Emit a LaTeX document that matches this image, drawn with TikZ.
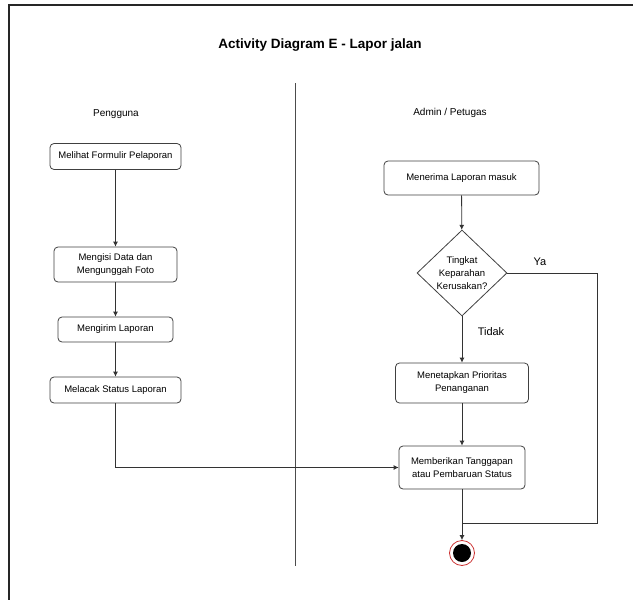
\documentclass[tikz,border=0pt]{standalone}
\usepackage{fontspec}
\setmainfont{Liberation Sans}
\usetikzlibrary{shapes.geometric,arrows.meta}
\begin{document}
\begin{tikzpicture}[x=1pt,y=-1pt,
  actbox/.style={draw=black!75,line width=0.8pt,rounded corners=4pt,fill=white,align=center,
    font=\fontsize{9.5}{13}\selectfont,inner sep=1pt},
  decis/.style={draw=black!75,line width=0.8pt,diamond,aspect=1.05,align=center,
    font=\fontsize{9.5}{13}\selectfont,inner sep=0pt,minimum width=90pt,minimum height=86pt},
  conn/.style={draw=black!80,line width=0.8pt},
  arr/.style={conn,-{Latex[length=5pt,width=5pt]}},
  lane/.style={font=\fontsize{10}{12}\selectfont},
  lbl/.style={font=\fontsize{11}{13}\selectfont}]
\useasboundingbox (0,0) rectangle (633,600);
% frame
\draw[line width=1.3pt,black!85] (633,5) -- (9,5) -- (9,600);
% title
\node (title) at (320,45) {\fontsize{13.5}{16}\selectfont\bfseries Activity Diagram E - Lapor jalan};
% divider
\coordinate (dtop) at (295,83);
\coordinate (dbot) at (295,566);
\draw[black!70,line width=0.8pt] (dtop) -- (dbot);
% lanes
\node[lane] (lanea) at (116,114) {Pengguna};
\node[lane] (laneb) at (450,113) {Admin / Petugas};
% left activities
\node[actbox,minimum width=131pt,minimum height=26pt] (b1) at (115.5,156.5) {Melihat Formulir Pelaporan};
\node[actbox,minimum width=123pt,minimum height=35pt] (b2) at (115.5,264.5) {Mengisi Data dan\\Mengunggah Foto};
\node[actbox,minimum width=115pt,minimum height=25pt] (b3) at (115.5,329.5) {Mengirim Laporan};
\node[actbox,minimum width=131pt,minimum height=26pt] (b4) at (115.5,390) {Melacak Status Laporan};
% right activities
\node[actbox,minimum width=155pt,minimum height=34pt] (r1) at (461.5,178) {Menerima Laporan masuk};
\node[decis] (dia) at (462,273) {Tingkat\\Keparahan\\Kerusakan?};
\node[actbox,minimum width=133pt,minimum height=40pt] (r2) at (462,383) {Menetapkan Prioritas\\Penanganan};
\node[actbox,minimum width=126pt,minimum height=43pt] (r3) at (462,467.5) {Memberikan Tanggapan\\atau Pembaruan Status};
% end node
\node[circle,draw=red!75!black!80,line width=0.8pt,fill=white,minimum size=25pt,inner sep=0pt] (fin) at (462,553) {};
\node[circle,fill=black,minimum size=18pt,inner sep=0pt] (fincore) at (fin.center) {};
% connectors
\draw[arr] (b1) -- (b2);
\draw[arr] (b2) -- (b3);
\draw[arr] (b3) -- (b4);
\draw[arr] (b4.south) |- (r3.west);
\draw[arr] (r1) -- (dia);
\draw[arr] (dia) -- (r2);
\draw[arr] (r2) -- (r3);
\draw[arr] (r3) -- (fin);
\coordinate (yc) at (597,273);
\coordinate (jn) at (462,523);
\draw[conn] (dia.east) -- (yc) |- (jn);
\node[lbl,anchor=west] (ya) at (530,262) {Ya};
\node[lbl] (tidak) at (491,332) {Tidak};
\end{tikzpicture}
\end{document}
